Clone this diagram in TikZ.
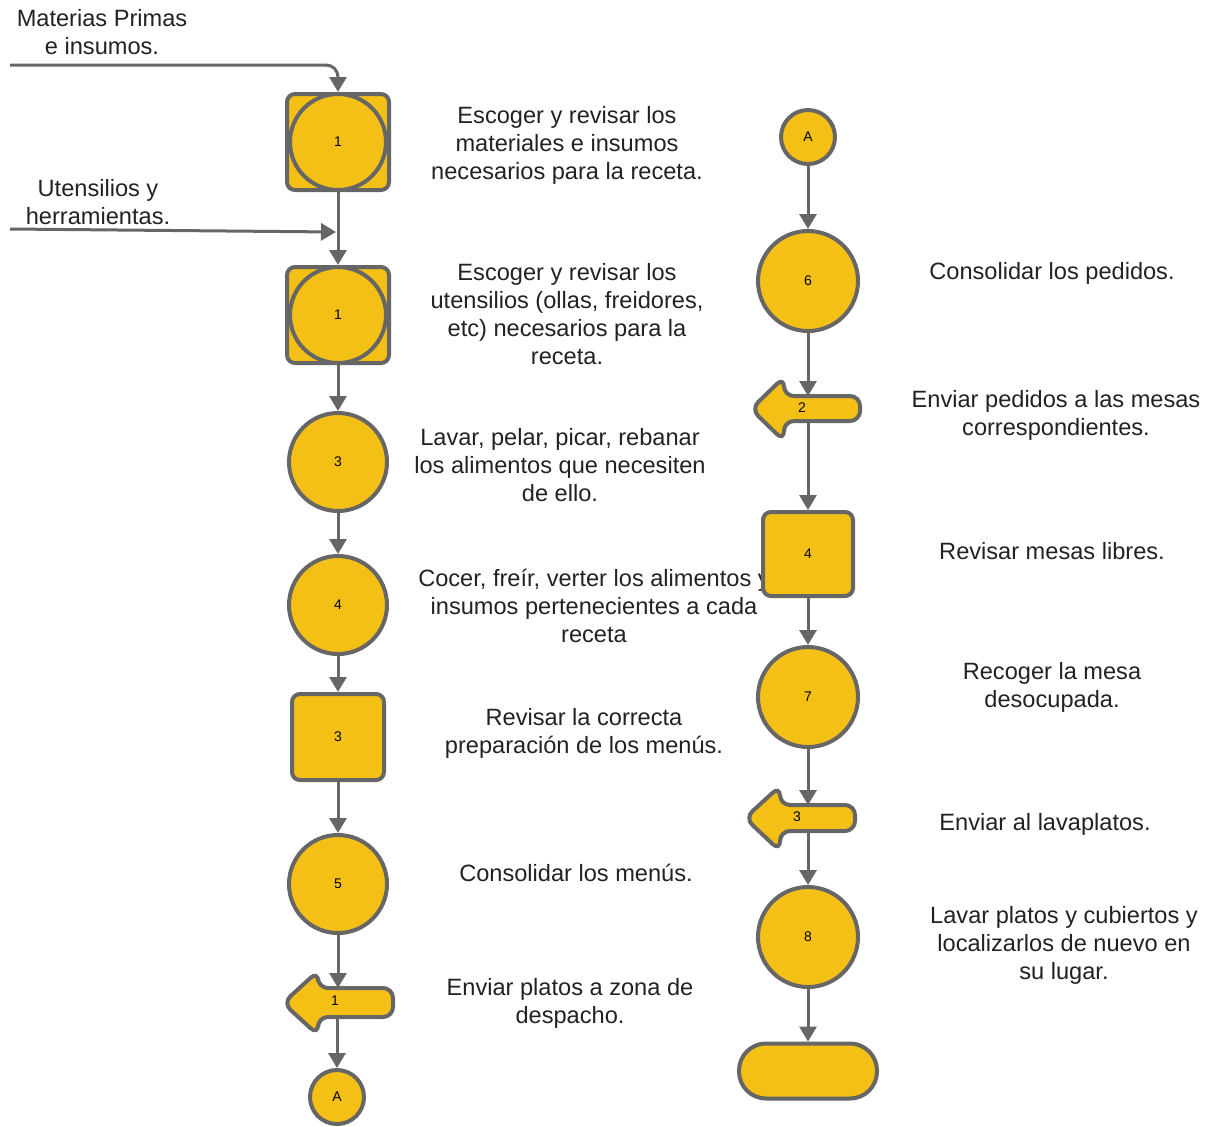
\documentclass[tikz,border=0pt]{standalone}
\usepackage{fontspec}
\setmainfont{Liberation Sans}
\usetikzlibrary{arrows.meta}
\definecolor{fy}{HTML}{F4C015}
\definecolor{lg}{HTML}{666666}
\definecolor{tx}{HTML}{222222}
\begin{document}
\begin{tikzpicture}[x=0.5pt,y=-0.5pt,
  shp/.style={draw=lg,fill=fy,line width=2pt},
  num/.style={font=\fontsize{7}{8}\selectfont,text=black},
  circ/.style={shp,circle,minimum size=#1,inner sep=0pt,num},
  sq/.style={shp,rectangle,rounded corners=4pt,inner sep=0pt,num},
  lbl/.style={font=\fontsize{11.8}{14}\selectfont,text=tx,align=center},
  conn/.style={draw=lg,line width=1.5pt,-{Triangle[length=7.5pt,width=8.5pt]}},
  arr/.style={shp,rounded corners=5pt}
]
\useasboundingbox (0,0) rectangle (1219,1126);

% texts (drawn first so shapes overlap)
\node[lbl] (tmp) at (102,32) {Materias Primas\\e insumos.};
\node[lbl] (tuh) at (98,202) {Utensilios y\\herramientas.};
\node[lbl] (t1) at (567,145) {Escoger y revisar los\\materiales e insumos\\necesarios para la receta.};
\node[lbl] (t2) at (567,314) {Escoger y revisar los\\utensilios (ollas, freidores,\\etc) necesarios para la\\receta.};
\node[lbl] (t3) at (560,465) {Lavar, pelar, picar, rebanar\\los alimentos que necesiten\\de ello.};
\node[lbl] (t4) at (594,606) {Cocer, freír, verter los alimentos y\\insumos pertenecientes a cada\\receta};
\node[lbl] (t5) at (584,733) {Revisar la correcta\\preparación de los menús.};
\node[lbl] (t6) at (576,873) {Consolidar los menús.};
\node[lbl] (t7) at (570,1003) {Enviar platos a zona de\\despacho.};
\node[lbl] (r1) at (1052,273) {Consolidar los pedidos.};
\node[lbl] (r2) at (1056,415) {Enviar pedidos a las mesas\\correspondientes.};
\node[lbl] (r3) at (1052,551) {Revisar mesas libres.};
\node[lbl] (r4) at (1052,687) {Recoger la mesa\\desocupada.};
\node[lbl] (r5) at (1045,824) {Enviar al lavaplatos.};
\node[lbl] (r6) at (1064,945) {Lavar platos y cubiertos y\\localizarlos de nuevo en\\su lugar.};

% left column
\node[sq,minimum width=51pt,minimum height=48pt] (b1) at (338,142) {};
\node[circ=48pt] (b1c) at (338,142) {1};
\node[sq,minimum width=51pt,minimum height=48pt] (b2) at (338,315) {};
\node[circ=48pt] (b2c) at (338,315) {1};
\node[circ=49pt] (c3) at (338,462) {3};
\node[circ=49pt] (c4) at (338,605) {4};
\node[sq,minimum width=46pt,minimum height=43pt] (s3) at (338,737) {3};
\node[circ=49pt] (c5) at (338,884) {5};
\draw[arr] (283,1003) -- (318,971) -- (318,988) -- (393,988) -- (393,1017) -- (318,1017) -- (318,1035) -- cycle;
\node[num] (a1) at (335,1001) {1};
\coordinate (a1t) at (338,988);
\coordinate (a1b) at (337,1017);
\node[circ=27pt] (cA) at (337,1097) {A};

% right column
\node[circ=27pt] (rA) at (808,137) {A};
\node[circ=50pt] (c6) at (808,281) {6};
\draw[arr] (751,409) -- (784,377) -- (784,396) -- (860,396) -- (860,421) -- (784,421) -- (784,441) -- cycle;
\node[num] (a2) at (802,408) {2};
\coordinate (a2t) at (808,396);
\coordinate (a2b) at (808,421);
\node[sq,minimum width=45pt,minimum height=42pt] (s4) at (808,554) {4};
\node[circ=50pt] (c7) at (808,697) {7};
\draw[arr] (745,818) -- (780,786) -- (780,805) -- (855,805) -- (855,831) -- (780,831) -- (780,851) -- cycle;
\node[num] (a3) at (797,817) {3};
\coordinate (a3t) at (808,805);
\coordinate (a3b) at (808,831);
\node[circ=50pt] (c8) at (808,937) {8};
\node[shp,rectangle,rounded corners=13.5pt,minimum width=69pt,minimum height=27.5pt] (term) at (808,1071) {};

% connectors left
\coordinate (mps) at (10,65);
\draw[conn,rounded corners=6pt] (mps) -| (b1.north);
\draw[conn] (b1.south) -- (b2.north);
\coordinate (uts) at (10,229);
\coordinate (utj) at (336,232);
\draw[conn] (uts) -- (utj);
\draw[conn] (b2.south) -- (c3.north);
\draw[conn] (c3.south) -- (c4.north);
\draw[conn] (c4.south) -- (s3.north);
\draw[conn] (s3.south) -- (c5.north);
\draw[conn] (c5.south) -- (a1t);
\draw[conn] (a1b) -- (cA.north);

% connectors right
\draw[conn] (rA.south) -- (c6.north);
\draw[conn] (c6.south) -- (a2t);
\draw[conn] (a2b) -- (s4.north);
\draw[conn] (s4.south) -- (c7.north);
\draw[conn] (c7.south) -- (a3t);
\draw[conn] (a3b) -- (c8.north);
\draw[conn] (c8.south) -- (term.north);
\end{tikzpicture}
\end{document}
